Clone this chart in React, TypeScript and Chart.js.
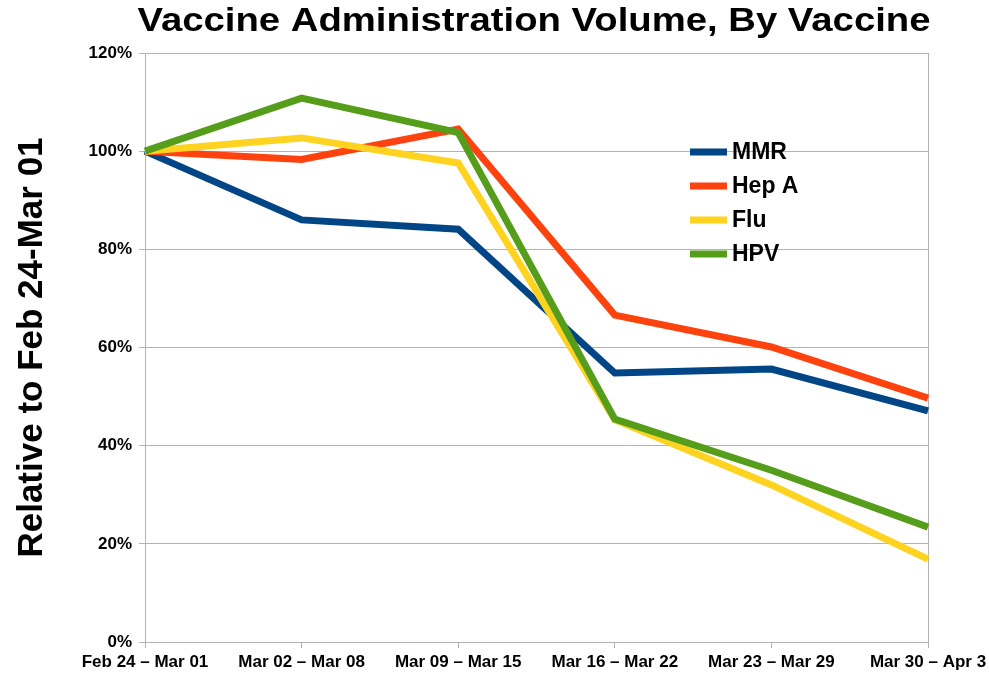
import React, { useEffect, useRef } from "react";
import { Chart, registerables } from "chart.js";

Chart.register(...registerables);

const categories = [
  "Feb 24 – Mar 01",
  "Mar 02 – Mar 08",
  "Mar 09 – Mar 15",
  "Mar 16 – Mar 22",
  "Mar 23 – Mar 29",
  "Mar 30 – Apr 3",
];
const mmr = [100, 86, 84.1, 54.8, 55.6, 47.1];
const hepA = [100, 98.3, 104.5, 66.6, 60.1, 49.7];
const flu = [100, 102.7, 97.6, 45.3, 32, 16.9];
const hpv = [100, 110.8, 103.8, 45.4, 35, 23.4];
const seriesNames = ["MMR", "Hep A", "Flu", "HPV"];
const seriesColors = ["#004586", "#ff420e", "#ffd320", "#579d1c"];
const titleText = "Vaccine Administration Volume, By Vaccine";
const yTitle = "Relative to Feb 24-Mar 01";

const FONT = "'Liberation Sans', Arial, sans-serif";

const titlePlugin = {
  id: "stretchedTitle",
  afterDraw(chart: any) {
    const ctx = chart.ctx;
    ctx.save();
    ctx.font = `bold 33px ${FONT}`;
    ctx.fillStyle = "#000";
    ctx.textAlign = "center";
    ctx.textBaseline = "alphabetic";
    const w = ctx.measureText(titleText).width;
    const sx = 793 / w;
    ctx.translate(534, 31);
    ctx.scale(sx, 1);
    ctx.fillText(titleText, 0, 0);
    ctx.restore();
  },
};

const legendPlugin = {
  id: "insideLegend",
  afterDatasetsDraw(chart: any) {
    const ctx = chart.ctx;
    ctx.save();
    const x0 = 690;
    const y0 = 152;
    const gap = 34;
    chart.data.datasets.forEach((ds: any, i: number) => {
      const y = y0 + i * gap;
      ctx.strokeStyle = ds.borderColor;
      ctx.lineWidth = 7;
      ctx.lineCap = "butt";
      ctx.beginPath();
      ctx.moveTo(x0, y);
      ctx.lineTo(x0 + 37, y);
      ctx.stroke();
      ctx.fillStyle = "#000";
      ctx.font = `bold 23px ${FONT}`;
      ctx.textBaseline = "middle";
      ctx.textAlign = "left";
      ctx.fillText(ds.label, x0 + 42, y + 1);
    });
    ctx.restore();
  },
};

export default function App() {
  const ref = useRef<HTMLCanvasElement>(null);
  useEffect(() => {
    document.body.style.margin = "0";
    const values = [mmr, hepA, flu, hpv];
    const chart = new Chart(ref.current!, {
      type: "line",
      data: {
        labels: categories,
        datasets: values.map((v, i) => ({
          label: seriesNames[i],
          data: v,
          borderColor: seriesColors[i],
          backgroundColor: seriesColors[i],
          borderWidth: 7,
          pointRadius: 0,
          tension: 0,
          order: 4 - i,
        })),
      },
      options: {
        responsive: false,
        animation: false,
        layout: { padding: { left: 11, right: 57, top: 53, bottom: 0 } },
        plugins: {
          legend: { display: false },
          tooltip: { enabled: false },
          title: { display: false },
        },
        scales: {
          x: {
            offset: false,
            grid: {
              color: (c: any) =>
                c.index === 0 || c.index === categories.length - 1 ? "#b3b3b3" : "transparent",
              tickColor: "#b3b3b3",
              tickLength: 6,
              lineWidth: 1,
            },
            border: { color: "#b3b3b3" },
            ticks: {
              color: "#000",
              font: { family: FONT, size: 17, weight: "bold" },
              maxRotation: 0,
              autoSkip: false,
              padding: 4,
            },
            afterFit: (s: any) => {
              s.height = 33;
              s.paddingRight = 61;
            },
          },
          y: {
            min: 0,
            max: 120,
            grid: { color: "#b3b3b3", tickLength: 6, tickColor: "#b3b3b3" },
            border: { color: "#b3b3b3" },
            ticks: {
              stepSize: 20,
              color: "#000",
              font: { family: FONT, size: 17, weight: "bold" },
              callback: (v: any) => v + "%",
              padding: 7,
            },
            title: {
              display: true,
              text: yTitle,
              color: "#000",
              font: { family: FONT, size: 35, weight: "bold" },
              padding: { top: 0, bottom: 0 },
            },
            afterFit: (s: any) => {
              s.width = 134;
            },
          },
        },
      },
      plugins: [legendPlugin, titlePlugin],
    });
    return () => chart.destroy();
  }, []);
  return <canvas ref={ref} width={989} height={675} style={{ display: "block" }} />;
}
